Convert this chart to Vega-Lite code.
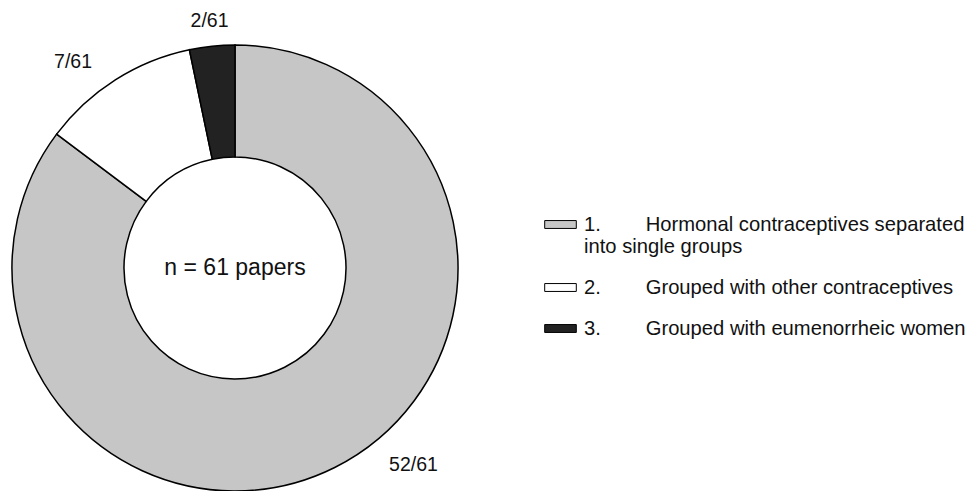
{
  "$schema": "https://vega.github.io/schema/vega-lite/v6.json",
  "width": 470,
  "height": 536,
  "padding": 0,
  "background": "white",
  "config": {"view": {"stroke": null}, "font": "Liberation Sans"},
  "layer": [
    {
      "data": {"values": [
        {"rank": 1, "group": "1.\u00a0\u00a0\u00a0\u00a0\u00a0\u00a0\u00a0\u00a0Hormonal contraceptives separated|into single groups", "count": 52, "frac": "52/61"},
        {"rank": 2, "group": "2.\u00a0\u00a0\u00a0\u00a0\u00a0\u00a0\u00a0\u00a0Grouped with other contraceptives", "count": 7, "frac": "7/61"},
        {"rank": 3, "group": "3.\u00a0\u00a0\u00a0\u00a0\u00a0\u00a0\u00a0\u00a0Grouped with eumenorrheic women", "count": 2, "frac": "2/61"}
      ]},
      "encoding": {
        "theta": {"field": "count", "type": "quantitative", "stack": true},
        "order": {"field": "rank", "type": "quantitative"},
        "color": {
          "field": "group",
          "type": "nominal",
          "sort": null,
          "scale": {
            "domain": [
              "1.\u00a0\u00a0\u00a0\u00a0\u00a0\u00a0\u00a0\u00a0Hormonal contraceptives separated|into single groups",
              "2.\u00a0\u00a0\u00a0\u00a0\u00a0\u00a0\u00a0\u00a0Grouped with other contraceptives",
              "3.\u00a0\u00a0\u00a0\u00a0\u00a0\u00a0\u00a0\u00a0Grouped with eumenorrheic women"
            ],
            "range": ["#c6c6c6", "#ffffff", "#222222"]
          },
          "legend": {
            "title": null,
            "orient": "none",
            "legendX": 544,
            "legendY": 208,
            "padding": 0,
            "labelExpr": "split(datum.label, '|')",
            "labelFont": "Liberation Sans",
            "labelFontSize": 20.2,
            "labelColor": "#111111",
            "labelLimit": 600,
            "labelOffset": 7,
            "rowPadding": 14,
            "symbolType": "M-1,-0.25H1V0.25H-1Z",
            "symbolSize": 1000,
            "symbolStrokeColor": "black",
            "symbolStrokeWidth": 1,
            "symbolOpacity": 1
          }
        }
      },
      "layer": [
        {"mark": {"type": "arc", "outerRadius": 223, "innerRadius": 111, "stroke": "black", "strokeWidth": 1.5}},
        {
          "mark": {"type": "text", "radius": 266, "thetaOffset": -0.272, "fontSize": 19.5, "font": "Liberation Sans"},
          "encoding": {"text": {"condition": {"test": "datum.rank == 1", "field": "frac"}, "value": ""}, "color": {"value": "#111111"}}
        },
        {
          "mark": {"type": "text", "radius": 262, "thetaOffset": -0.1, "fontSize": 19.5, "font": "Liberation Sans"},
          "encoding": {"text": {"condition": {"test": "datum.rank == 2", "field": "frac"}, "value": ""}, "color": {"value": "#111111"}}
        },
        {
          "mark": {"type": "text", "radius": 248, "fontSize": 19.5, "font": "Liberation Sans"},
          "encoding": {"text": {"condition": {"test": "datum.rank == 3", "field": "frac"}, "value": ""}, "color": {"value": "#111111"}}
        }
      ]
    },
    {
      "data": {"values": [{"t": "n = 61 papers"}]},
      "mark": {"type": "text", "fontSize": 23, "font": "Liberation Sans", "color": "#111111"},
      "encoding": {"text": {"field": "t", "type": "nominal"}}
    }
  ]
}
